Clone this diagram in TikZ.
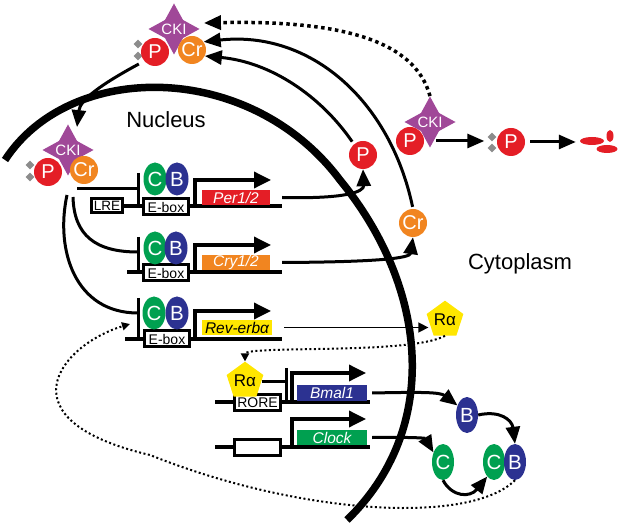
\documentclass[tikz,border=0pt]{standalone}
\usepackage{fontspec}
\setmainfont{Liberation Sans}
\usepackage{xcolor}
\usetikzlibrary{arrows.meta,shapes.geometric}

\definecolor{pred}{RGB}{228,30,38}
\definecolor{crorange}{RGB}{241,133,32}
\definecolor{ckipurple}{RGB}{160,72,152}
\definecolor{clkgreen}{RGB}{0,160,80}
\definecolor{bmblue}{RGB}{44,50,145}
\definecolor{revyellow}{RGB}{255,230,0}
\definecolor{phgrey}{RGB}{140,140,140}

\newcommand{\fsz}[1]{\fontsize{#1}{#1}\selectfont}

\begin{document}
\begin{tikzpicture}
          [x=1pt,y=-1pt,
          prot/.style={shape=circle,minimum size=28pt,inner sep=0pt,text=white,font=\fsz{20}},
          ckistar/.style={star,star points=4,star point ratio=2.0,minimum size=51pt,inner sep=0pt,fill=ckipurple},
          ckitext/.style={text=white,font=\fsz{15}},
          phos/.style={diamond,minimum size=9pt,inner sep=0pt,fill=phgrey},
          oval/.style={ellipse,minimum width=23pt,minimum height=33pt,inner sep=0pt,text=white,font=\fsz{20.5}},
          site/.style={rectangle,draw,line width=3pt,fill=white,minimum width=45pt,minimum height=16pt,inner sep=1.5pt,font=\fsz{14}},
          gene/.style={rectangle,minimum width=68pt,minimum height=15pt,inner sep=0pt,text=white,font=\itshape\fsz{15.5}},
          ralpha/.style={regular polygon,regular polygon sides=5,minimum size=32pt,inner sep=0pt,fill=revyellow,font=\fsz{17}},
          dna/.style={line width=3.5pt},
          rep/.style={line width=3pt},
          prom/.style={line width=3.5pt,-{Triangle[length=17pt,width=16pt]}},
          arr/.style={line width=3pt,-{Triangle[length=17pt,width=14pt]}},
          thinarr/.style={line width=1.5pt,-{Triangle[length=10pt,width=10pt]}},
          dotarr/.style={line width=2pt,dash pattern=on 2pt off 2.5pt,-{Triangle[length=8pt,width=8pt]}},
          bigdot/.style={line width=3.5pt,dash pattern=on 3.5pt off 3.5pt,-{Triangle[length=17pt,width=14pt]}}]

            \useasboundingbox (0,0) rectangle (624,529);

            % nuclear envelope
            \draw [line width=7.5pt] (5,160) .. controls (70,60) and (250,60) .. (340,180)
              .. controls (430,290) and (440,430) .. (347,520);

            \node (nuc) [font=\fsz{22}] at (166,120) {Nucleus};
            \node (cyt) [font=\fsz{22}] at (520,264) {Cytoplasm};

            % complexes
            \node (cki1) [ckistar] at (174,29) {};
            \node (ckit1) [ckitext] at (174,29) {CKI};
            \node (ph1a) [phos] at (138,44) {};
            \node (ph1b) [phos] at (138,56) {};
            \node (p1) [prot,fill=pred] at (155,52) {P};
            \node (cr1) [prot,fill=crorange] at (192,50) {Cr};

            \node (cki2) [ckistar] at (68,150) {};
            \node (ckit2) [ckitext] at (68,150) {CKI};
            \node (ph2a) [phos] at (30,165) {};
            \node (ph2b) [phos] at (30,177) {};
            \node (p2) [prot,fill=pred] at (48,172) {P};
            \node (cr2) [prot,fill=crorange] at (84,170) {Cr};

            \node (cki3) [ckistar] at (430,122) {};
            \node (ckit3) [ckitext] at (430,122) {CKI};
            \node (p4) [prot,fill=pred] at (410,141) {P};
            \node (ph5a) [phos] at (492,137) {};
            \node (ph5b) [phos] at (492,148) {};
            \node (p5) [prot,fill=pred] at (511,142) {P};
            \node (fr1) [ellipse,fill=pred,minimum width=24pt,minimum height=8pt,inner sep=0pt] at (592,141) {};
            \node (fr2) [ellipse,fill=pred,minimum width=7pt,minimum height=12pt,inner sep=0pt] at (610,136) {};
            \node (fr3) [ellipse,fill=pred,minimum width=21pt,minimum height=8pt,inner sep=0pt] at (607,149) {};

            % Per1/2
            \node (lre) [site,minimum width=31pt,minimum height=14pt,font=\fsz{13.5}] at (107,206) {LRE};
            \draw [dna] (lre.east) -- (282,206);
            \node (ebox1) [site] at (166,207) {E-box};
            \draw [rep] (138,173) -- (138,206);
            \node (c1) [oval,fill=clkgreen] at (155,179) {C};
            \node (b1) [oval,fill=bmblue] at (177,179) {B};
            \draw [prom] (195,206) |- (271,180);
            \node (per) [gene,fill=pred] at (236,197.5) {Per1/2};

            % Cry1/2
            \draw [dna] (127,272) -- (282,272);
            \node (ebox2) [site] at (166,273) {E-box};
            \draw [rep] (138,237) -- (138,272);
            \node (c2) [oval,fill=clkgreen] at (155,248) {C};
            \node (b2) [oval,fill=bmblue] at (176,248) {B};
            \draw [prom] (195,272) |- (271,245);
            \node (cry) [gene,fill=crorange] at (236,262.5) {Cry1/2};

            % Rev-erb
            \draw [dna] (125,339) -- (282,339);
            \node (ebox3) [site] at (167,339) {E-box};
            \draw [rep] (138,298) -- (138,339);
            \node (c3) [oval,fill=clkgreen] at (154,313) {C};
            \node (b3) [oval,fill=bmblue] at (177,313) {B};
            \draw [prom] (195,339) |- (271,311);
            \node (rev) [gene,fill=revyellow,text=black,minimum width=70pt] at (237,327.5) {Rev-erbα};

            % Bmal1
            \draw [dna] (215,402) -- (370,402);
            \node (rore) [site,minimum width=46pt] at (257.5,402.5) {RORE};
            \node (ra1) [ralpha] at (245,381) {Rα};
            \coordinate (tb4) at (286,368);
            \draw [rep] (tb4) -- (286,402);
            \draw [rep] (ra1.east) -- (ra1.east -| tb4);
            \draw [prom] (292,402) |- (366,373);
            \node (bmal) [gene,fill=bmblue,minimum width=70pt,minimum height=16pt] at (332,393) {Bmal1};

            % Clock
            \draw [dna] (215,447) -- (370,447);
            \node (box5) [site,minimum width=46pt] at (257.5,447.5) {};
            \draw [prom] (292,447) |- (366,419);
            \node (clock) [gene,fill=clkgreen,minimum width=70pt] at (332,437.5) {Clock};

            % products
            \node (p3) [prot,fill=pred] at (363,155) {P};
            \node (cr3) [prot,fill=crorange] at (413,223) {Cr};
            \node (ra2) [ralpha] at (445,320) {Rα};
            \node (bf) [oval,fill=bmblue,minimum width=22pt,minimum height=36pt] at (467,415) {B};
            \node (cf) [oval,fill=clkgreen,minimum width=22pt,minimum height=36pt] at (443,462) {C};
            \node (cc) [oval,fill=clkgreen,minimum width=22pt,minimum height=36pt] at (494,462) {C};
            \node (cb) [oval,fill=bmblue,minimum width=22pt,minimum height=36pt] at (515,462) {B};

            \coordinate (ckitop) at ([shift={(9,3)}]cki2.north);
            \coordinate (ckiin) at ([shift={(4,-6)}]cki1.east);
            \coordinate (rep1) at (77,189);
            \coordinate (rep2) at (73,197);
            \coordinate (rep3) at (67,195);
            \coordinate (revin) at (130,324);

            \draw [arr,shorten <=6pt] (p1.220) .. controls (100,85) and (80,100) .. (ckitop);
            \draw [rep] (rep1) -- (138,189);
            \draw [rep] (rep2) .. controls (74,235) and (95,252) .. (138,252);
            \draw [rep] (rep3) .. controls (55,250) and (75,313) .. (138,313);

            \draw [arr] ([xshift=12pt]per.east) .. controls (345,199) and (364,192) .. (p3.south);
            \draw [arr] ([xshift=12pt]cry.east) .. controls (380,262) and (410,258) .. (cr3.south);
            \draw [thinarr] ([xshift=12pt]rev.east) -- (rev.east -| ra2.west);
            \draw [arr] ([xshift=5pt]bmal.east) .. controls (420,392) and (440,392) .. (bf.135);
            \draw [arr] ([xshift=5pt]clock.east) .. controls (410,437) and (425,438) .. (cf.135);
            \draw [arr] (bf.east) .. controls (500,410) and (512,420) .. (cb.north);
            \draw [arr] (cf.south) .. controls (452,497) and (470,498) .. (cc.245);

            \draw [arr,shorten <=3pt] (p3.130) .. controls (320,95) and (270,62) .. (cr1.-25);
            \draw [arr,shorten <=2pt] (cr3.north) .. controls (390,100) and (310,30) .. (cr1.35);
            \draw [bigdot] (cki3.north) .. controls (415,40) and (340,20) .. (ckiin);

            \draw [arr] ([xshift=12pt]p4.east) -- ([xshift=-3pt]ph5a.west |- p4.east);
            \draw [arr] ([xshift=5pt]p5.east) -- ([xshift=-4pt]fr1.west |- p5.east);

            \draw [dotarr] (ra2.south) .. controls (410,355) and (245,345) .. (ra1.north);
            \draw [dotarr] (cb.south) .. controls (470,525) and (300,515) .. (150,455)
              .. controls (0,420) and (60,345) .. (revin);

        \end{tikzpicture}
\end{document}
